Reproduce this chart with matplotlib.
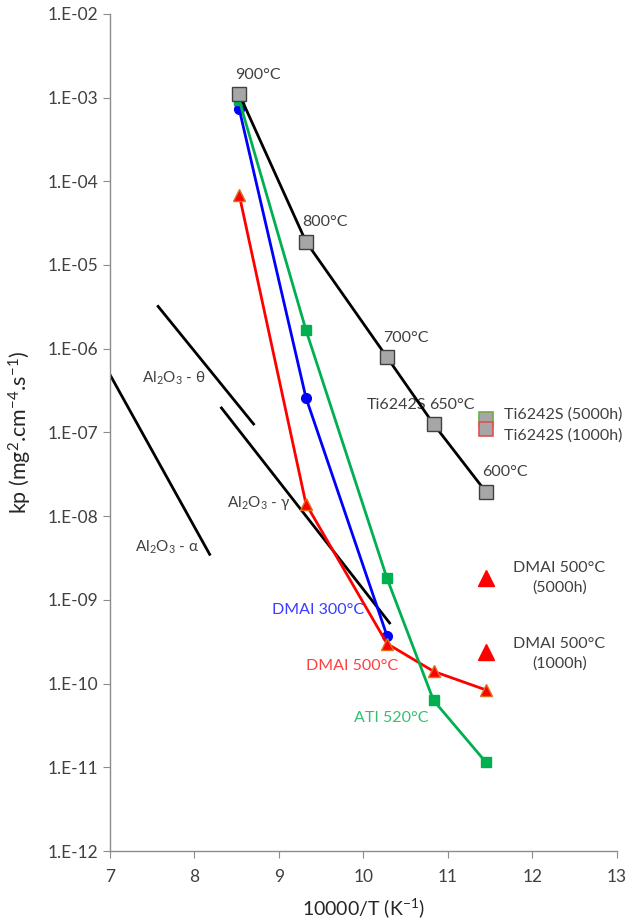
"""
Parabolic rate constants kp vs 10000/T for Ti6242S and coated alloys.
"""

import matplotlib
matplotlib.use('Agg')
import matplotlib.pyplot as plt
from matplotlib.ticker import FixedLocator, FixedFormatter

plt.rcParams['font.family'] = ['Lato', 'DejaVu Sans']
plt.rcParams['mathtext.fontset'] = 'custom'
plt.rcParams['mathtext.rm'] = 'Lato'
plt.rcParams['mathtext.default'] = 'regular'

# --- Data ---
inv_T = [8.53, 9.32, 10.28, 10.83, 11.45]
temps = ['900°C', '800°C', '700°C', '650°C', '600°C']

kp_ti6242s = [1.1e-3, 1.9e-5, 7.9e-7, 1.26e-7, 1.95e-8]
kp_ati520 = [9.3e-4, 1.67e-6, 1.8e-9, 6.3e-11, 1.15e-11]
kp_dmai300 = [7.3e-4, 2.6e-7, 3.7e-10]
kp_dmai500 = [6.9e-5, 1.4e-8, 3.0e-10, 1.4e-10, 8.4e-11]

# long exposure points (at 600 / 500°C)
x_long = 11.45
kp_ti_5000h, kp_ti_1000h = 1.45e-7, 1.1e-7
kp_dmai_5000h, kp_dmai_1000h = 1.8e-9, 2.4e-10

# alumina reference lines (start, end)
alpha_x, alpha_y = [7.0, 8.18], [4.9e-7, 3.5e-9]
theta_x, theta_y = [7.57, 8.70], [3.2e-6, 1.26e-7]
gamma_x, gamma_y = [8.32, 10.31], [1.96e-7, 5.3e-10]

GRAY_TXT = '#404040'
AXIS_COL = '#8c8c8c'

fig = plt.figure(figsize=(6.32, 9.23), dpi=100)
ax = fig.add_axes([0.174, 0.078, 0.802, 0.907])
ax.set_yscale('log')

# alumina lines
for xs, ys in [(alpha_x, alpha_y), (theta_x, theta_y), (gamma_x, gamma_y)]:
    ax.plot(xs, ys, color='black', linewidth=2.0)

# series
ax.plot(inv_T[:3], kp_dmai300, color='#0000FF', linewidth=2.0, marker='o',
        markersize=7, zorder=4)
ax.plot(inv_T, kp_dmai500, color='#FF0000', linewidth=2.0, marker='^',
        markersize=9, markeredgecolor='#E0701A', markeredgewidth=1.0, zorder=4)
ax.plot(inv_T, kp_ati520, color='#00B050', linewidth=2.0, marker='s',
        markersize=6.5, zorder=4)
ax.plot(inv_T, kp_ti6242s, color='black', linewidth=2.0, marker='s',
        markersize=10, markerfacecolor='#A6A6A6', markeredgecolor='#404040',
        markeredgewidth=1.0, zorder=5)

# standalone long exposure points
ax.plot(x_long, kp_ti_5000h, 's', markersize=10, markerfacecolor='#A6A6A6',
        markeredgecolor='#70AD47', markeredgewidth=1.2, zorder=5)
ax.plot(x_long, kp_ti_1000h, 's', markersize=10, markerfacecolor='#A6A6A6',
        markeredgecolor='#E05050', markeredgewidth=1.2, zorder=6)
ax.plot(x_long, kp_dmai_5000h, '^', markersize=11, color='#FF0000', zorder=5)
ax.plot(x_long, kp_dmai_1000h, '^', markersize=11, color='#FF0000', zorder=5)

fs = 11.5

# temperature labels
for x, y, t in zip(inv_T, kp_ti6242s, temps):
    ax.annotate(t, (x, y), textcoords='offset points', xytext=(-3, 14),
                fontsize=fs, color=GRAY_TXT, ha='left', va='center')
ax.annotate('Ti6242S', (inv_T[3], kp_ti6242s[3]), textcoords='offset points',
            xytext=(-5, 14), fontsize=fs, color=GRAY_TXT, ha='right', va='center')

ax.text(11.66, 1.65e-7, 'Ti6242S (5000h)', fontsize=fs, color=GRAY_TXT, ha='left', va='center')
ax.text(11.66, 9.2e-8, 'Ti6242S (1000h)', fontsize=fs, color=GRAY_TXT, ha='left', va='center')
ax.text(12.32, 1.83e-9, 'DMAI 500°C\n(5000h)', fontsize=fs, color=GRAY_TXT,
        ha='center', va='center', linespacing=1.5)
ax.text(12.32, 2.26e-10, 'DMAI 500°C\n(1000h)', fontsize=fs, color=GRAY_TXT,
        ha='center', va='center', linespacing=1.5)

ax.text(9.46, 7.6e-10, 'DMAI 300°C', fontsize=fs, color='#3B3BFF', ha='center', va='center')
ax.text(9.86, 1.62e-10, 'DMAI 500°C', fontsize=fs, color='#FF4040', ha='center', va='center')
ax.text(10.33, 3.9e-11, 'ATI 520°C', fontsize=fs, color='#33C070', ha='center', va='center')

ax.text(7.75, 4.4e-7, r'Al$_2$O$_3$ - θ', fontsize=11, color=GRAY_TXT, ha='center', va='center')
ax.text(8.76, 1.45e-8, r'Al$_2$O$_3$ - γ', fontsize=11, color=GRAY_TXT, ha='center', va='center')
ax.text(7.67, 4.3e-9, r'Al$_2$O$_3$ - α', fontsize=11, color=GRAY_TXT, ha='center', va='center')

# axes formatting
ax.set_xlim(7, 13)
ax.set_ylim(1e-12, 1e-2)
ax.set_xticks(range(7, 14))
yt = [10.0 ** e for e in range(-12, -1)]
ax.yaxis.set_major_locator(FixedLocator(yt))
ax.yaxis.set_major_formatter(FixedFormatter([f'1.E-{-e:02d}' for e in range(-12, -1)]))
ax.yaxis.set_minor_locator(FixedLocator([]))

for side in ['top', 'right']:
    ax.spines[side].set_visible(False)
for side in ['left', 'bottom']:
    ax.spines[side].set_color(AXIS_COL)
    ax.spines[side].set_linewidth(1.0)
ax.tick_params(axis='both', direction='out', length=5, color=AXIS_COL,
               labelcolor=GRAY_TXT, labelsize=12.5)
ax.tick_params(axis='x', pad=8)

ax.set_xlabel('10000/T (K$^{-1}$)', fontsize=14, color='#262626', labelpad=8)
ax.set_ylabel('kp (mg$^{2}$.cm$^{-4}$.s$^{-1}$)', fontsize=15.5, color='#262626', labelpad=10)

fig.savefig('out.png', dpi=100)
